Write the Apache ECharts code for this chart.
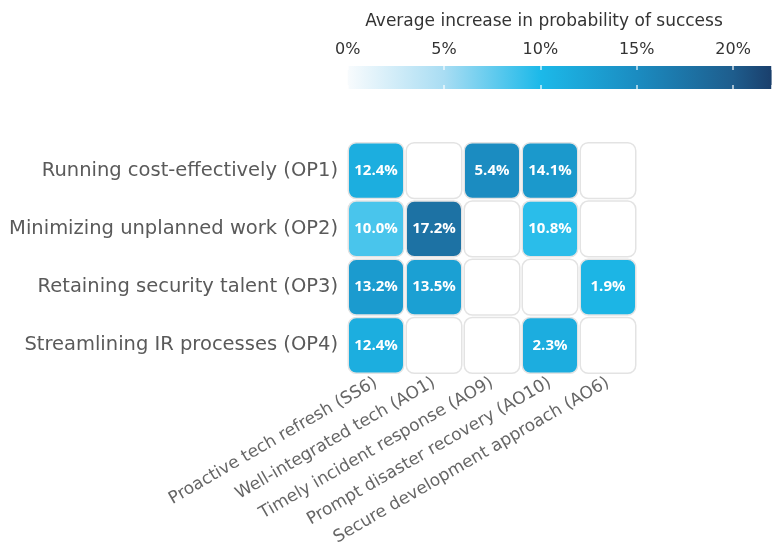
<!DOCTYPE html>
<html>
<head>
<meta charset="utf-8">
<script src="https://cdn.jsdelivr.net/npm/echarts@6/dist/echarts.min.js"></script>
<style>
  html, body { margin: 0; padding: 0; background: #fff; }
  #chart { width: 779px; height: 548px; }
</style>
</head>
<body>
<div id="chart"></div>
<script>
// outcomes (rows) and practices (columns)
const outcomes = [
  'Running cost-effectively (OP1)',
  'Minimizing unplanned work (OP2)',
  'Retaining security talent (OP3)',
  'Streamlining IR processes (OP4)'
]
const practices = [
  'Proactive tech refresh (SS6)',
  'Well-integrated tech (AO1)',
  'Timely incident response (AO9)',
  'Prompt disaster recovery (AO10)',
  'Secure development approach (AO6)'
]
// printed value in each cell, null = empty cell
const cellValues = [
  [12.4, null, 5.4, 14.1, null],
  [10.0, 17.2, null, 10.8, null],
  [13.2, 13.5, null, null, 1.9],
  [12.4, null, null, 2.3, null]
]
// where each cell's shade sits on the legend scale
const cellShades = [
  [11.2, null, 15.0, 13.6, null],
  [8.4, 17.8, null, 9.5, null],
  [13.3, 12.8, null, null, 10.5],
  [11.2, null, null, 11.3, null]
]
const legendTicks = [0, 5, 10, 15, 20]
const legendMax = 22

const shadeStops = [
  [0, '#f8fbfd'],
  [5, '#a9ddf3'],
  [10, '#1cb9e9'],
  [15, '#1b8cc1'],
  [20, '#1e5d8d'],
  [22, '#1a3f6c']
]

const shadeAt = (v) => {
  for (let i = 1; i < shadeStops.length; i++) {
    const [v0, c0] = shadeStops[i - 1]
    const [v1, c1] = shadeStops[i]
    if (v <= v1) {
      return echarts.color.lerp((v - v0) / (v1 - v0), [c0, c1])
    }
  }
  return shadeStops[shadeStops.length - 1][1]
}

const emptyData = []
const filledData = []
cellValues.forEach((row, r) => {
  row.forEach((val, c) => {
    if (val === null) {
      emptyData.push([c, r])
    } else {
      filledData.push([c, r, cellShades[r][c], val])
    }
  })
})

const cellRect = (api, fill) => {
  const pt = api.coord([api.value(0), api.value(1)])
  const size = api.size([1, 1])
  const gap = 2.5
  return {
    type: 'rect',
    shape: {
      x: pt[0] - size[0] / 2 + gap / 2,
      y: pt[1] - size[1] / 2 + gap / 2,
      width: size[0] - gap,
      height: size[1] - gap,
      r: 8
    },
    style: { fill: fill, stroke: '#e3e3e3', lineWidth: 1.5 }
  }
}

const chart = echarts.init(document.getElementById('chart'))
const font = 'DejaVu Sans'

chart.setOption({
  animation: false,
  title: {
    text: 'Average increase in probability of success',
    left: 539,
    top: 8,
    textAlign: 'center',
    textStyle: { fontFamily: font, fontSize: 17, fontWeight: 'normal', color: '#333' }
  },
  grid: [
    { left: 347, right: 142, top: 141.5, bottom: 171.5 },
    { left: 347.7, right: 7.4, top: 66, height: 23 }
  ],
  xAxis: [
    {
      type: 'category',
      data: practices,
      axisLine: { show: false },
      axisTick: { show: false },
      splitLine: { show: false },
      axisLabel: {
        rotate: 30,
        margin: 7,
        fontFamily: font,
        fontSize: 17,
        color: '#666'
      }
    },
    {
      type: 'value',
      gridIndex: 1,
      position: 'top',
      min: 0,
      max: legendMax,
      interval: 5,
      z: 5,
      axisLine: { show: false },
      axisTick: { show: false },
      splitLine: {
        show: true,
        lineStyle: { color: 'rgba(255,255,255,0.8)', width: 1.5, type: [4, 15] }
      },
      axisLabel: {
        margin: 8,
        fontFamily: font,
        fontSize: 16,
        color: '#333',
        customValues: legendTicks,
        formatter: '{value}%'
      }
    }
  ],
  yAxis: [
    {
      type: 'category',
      data: outcomes,
      inverse: true,
      axisLine: { show: false },
      axisTick: { show: false },
      splitLine: { show: false },
      axisLabel: {
        margin: 9,
        fontFamily: font,
        fontSize: 19.5,
        color: '#5a5a5a'
      }
    },
    {
      type: 'category',
      gridIndex: 1,
      data: ['scale'],
      show: false
    }
  ],
  series: [
    {
      type: 'custom',
      data: emptyData,
      renderItem: (params, api) => cellRect(api, '#fff')
    },
    {
      type: 'custom',
      data: filledData,
      renderItem: (params, api) => {
        const rect = cellRect(api, shadeAt(api.value(2)))
        const pt = api.coord([api.value(0), api.value(1)])
        return {
          type: 'group',
          children: [
            rect,
            {
              type: 'text',
              x: pt[0],
              y: pt[1],
              style: {
                text: api.value(3).toFixed(1) + '%',
                fill: '#fff',
                fontFamily: 'Open Sans',
                fontSize: 15,
                fontWeight: 'bold',
                align: 'center',
                verticalAlign: 'middle'
              }
            }
          ]
        }
      }
    },
    {
      type: 'bar',
      xAxisIndex: 1,
      yAxisIndex: 1,
      data: [legendMax],
      barWidth: '100%',
      silent: true,
      itemStyle: {
        color: new echarts.graphic.LinearGradient(
          0, 0, 1, 0,
          shadeStops.map(([v, c]) => ({ offset: v / legendMax, color: c }))
        )
      }
    }
  ]
})
</script>
</body>
</html>
